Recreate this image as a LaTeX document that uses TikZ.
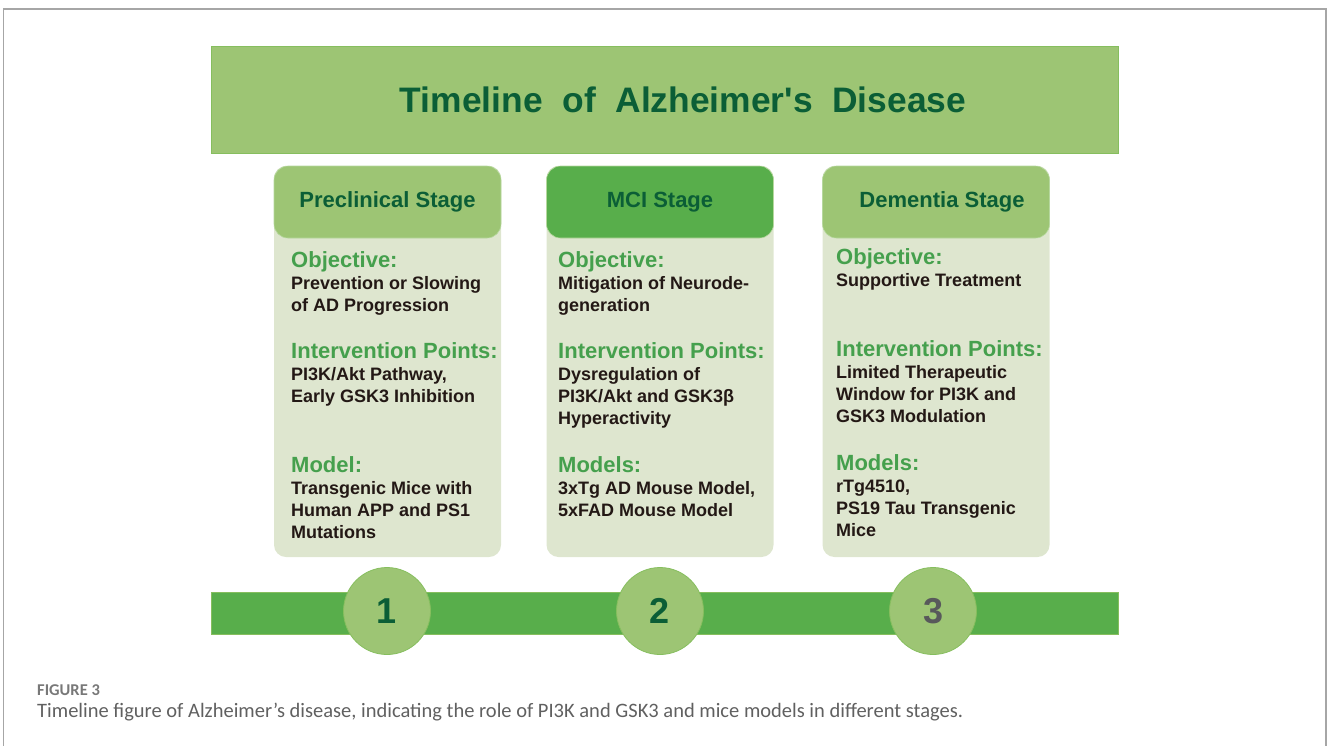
\documentclass[tikz,border=0pt]{standalone}
\usepackage{fontspec}
\setmainfont{Liberation Sans}
\newfontfamily\capfont{Carlito}

\definecolor{leaf}{HTML}{9DC574}
\definecolor{grass}{HTML}{58AE4B}
\definecolor{pale}{HTML}{DEE6CF}
\definecolor{forest}{HTML}{0B5E36}
\definecolor{sprout}{HTML}{45A04D}
\definecolor{ink}{HTML}{231815}
\definecolor{rim}{HTML}{86BE5E}
\definecolor{slate}{HTML}{58595B}
\definecolor{capgray}{HTML}{606060}

% green heading inside a card
\newcommand{\lbl}[1]{{\color{sprout}\fontsize{22}{22}\selectfont #1}}

\begin{document}
\begin{tikzpicture}[x=1pt, y=-1pt,
  card/.style={fill=pale, rounded corners=12pt, inner sep=0pt, minimum width=227pt, minimum height=391pt},
  stagehead/.style={draw=rim!60, line width=0.6pt, rounded corners=14pt, minimum width=227pt, minimum height=72pt, inner sep=0pt, text=forest, font=\fontsize{22}{22}\selectfont\bfseries},
  info/.style={anchor=north west, align=left, inner sep=0pt, text=ink, font=\fontsize{18}{22}\selectfont\bfseries},
  dot/.style={circle, fill=leaf, draw=rim, line width=0.8pt, minimum size=87pt, inner sep=0pt, font=\fontsize{36}{36}\selectfont\bfseries}]
\useasboundingbox (0,0) rectangle (1329,745);
\draw[gray!70, line width=1.2pt] (3.5,750) -- (3.5,9) -- (1326,9) -- (1326,750); % page frame

\node[fill=leaf, draw=rim, line width=0.8pt, minimum width=907pt, minimum height=107pt] (title) at (664.5,99.5) {};
\node[text=forest, font=\fontsize{35.4}{36}\selectfont\bfseries] (title-text) at (683,99.5) {Timeline~~of~~Alzheimer\textquotesingle s~~Disease};

\foreach \cx/\nm in {387.5/pre, 660/mci, 936/dem} % card backs
\node[card] (\nm-card) at (\cx,361.5) {};
\node[stagehead, fill=leaf] (pre-head) at (387.5,202) {Preclinical Stage};
\node[stagehead, fill=grass] (mci-head) at (660,202) {MCI Stage};
\node[stagehead, fill=leaf] (dem-head) at (936,202) {\hspace*{12pt}Dementia Stage};

% preclinical
\node[info] (pre-obj) at (291,251) {\lbl{Objective:}\\Prevention or Slowing\\of AD Progression};
\node[info] (pre-int) at (291,342) {\lbl{Intervention Points:}\\PI3K/Akt Pathway,\\Early GSK3 Inhibition};
\node[info] (pre-mod) at (291,456) {\lbl{Model:}\\Transgenic Mice with\\Human APP and PS1\\Mutations};
% MCI
\node[info] (mci-obj) at (558,251) {\lbl{Objective:}\\Mitigation of Neurode-\\generation};
\node[info] (mci-int) at (558,342) {\lbl{Intervention Points:}\\Dysregulation of\\PI3K/Akt and GSK3β\\Hyperactivity};
\node[info] (mci-mod) at (558,456) {\lbl{Models:}\\3xTg AD Mouse Model,\\5xFAD Mouse Model};
% dementia
\node[info] (dem-obj) at (836,248) {\lbl{Objective:}\\Supportive Treatment};
\node[info] (dem-int) at (836,340) {\lbl{Intervention Points:}\\Limited Therapeutic\\Window for PI3K and\\GSK3 Modulation};
\node[info] (dem-mod) at (836,454) {\lbl{Models:}\\rTg4510,\\PS19 Tau Transgenic\\Mice};

\node[fill=grass, draw=rim, line width=0.6pt, minimum width=907pt, minimum height=42pt, inner sep=0pt] (bar) at (664.5,613) {};
\foreach \cx/\n/\c in {387/1/forest, 660/2/forest, 933/3/slate} % stage markers
\node[dot, text=\c] (stage\n) at (\cx,611) {\n};

\node[anchor=base west, inner sep=0pt, text=capgray!85, font=\capfont\bfseries\fontsize{16.5}{17}\selectfont] (fig) at (37,695) {FIGURE 3};
\node[anchor=base west, inner sep=0pt, text=capgray, font=\capfont\fontsize{20.5}{21}\selectfont] (caption) at (37,717)
  {Timeline figure of Alzheimer’s disease, indicating the role of PI3K and GSK3 and mice models in different stages.};
\end{tikzpicture}
\end{document}
